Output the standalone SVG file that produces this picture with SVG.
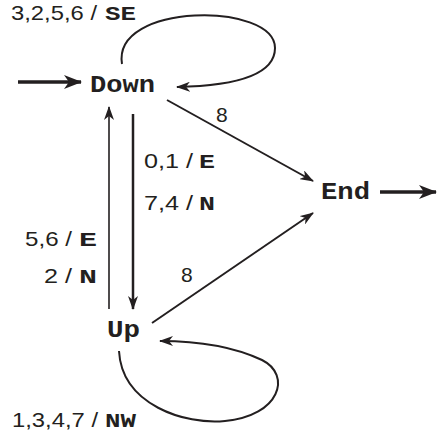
<svg xmlns="http://www.w3.org/2000/svg" width="437" height="441" viewBox="0 0 437 441">
<defs>
<style>
.edge{fill:none;stroke:#231f20;stroke-width:2}
.thick{fill:none;stroke:#231f20;stroke-width:3.5}
.node{font-family:"Liberation Mono",monospace;font-weight:bold;font-size:24px;fill:#231f20}
.lab{font-family:"Liberation Sans",Arial,sans-serif;font-size:21px;fill:#231f20}
.labm{font-family:"Liberation Mono",monospace;font-weight:bold;font-size:21px;fill:#231f20}
</style>
<marker id="ah" viewBox="0 0 14 10" refX="13" refY="5" markerWidth="14" markerHeight="10" markerUnits="userSpaceOnUse" orient="auto">
<path d="M0,0 L14,5 L0,10 L4,5 z" fill="#231f20"/>
</marker>
<marker id="ahb" viewBox="0 0 18 14" refX="17" refY="7" markerWidth="18" markerHeight="14" markerUnits="userSpaceOnUse" orient="auto">
<path d="M0,0 L18,7 L0,14 L5,7 z" fill="#231f20"/>
</marker>
</defs>
<g id="connectors">
<path class="thick" d="M18,82 L81,82" marker-end="url(#ahb)"/>
<path class="thick" d="M380,192 L436,192" marker-end="url(#ahb)"/>
<path class="edge" d="M122,64 C112,2 275,2 275,48 C275,78 225,86 177,87" marker-end="url(#ah)"/>
<path class="edge" d="M167,100 L313,181" marker-end="url(#ah)"/>
<path class="edge" d="M152,323 L313,213" marker-end="url(#ah)"/>
<path class="edge" style="stroke-width:2.5" d="M133,114 L133,309" marker-end="url(#ah)"/>
<path class="edge" style="stroke-width:1.6" d="M109,309 L109,107" marker-end="url(#ah)"/>
<path class="edge" d="M119,351 C122,405 185,425 225,421 C280,416 292,375 262,360 C230,345 190,341 160,341" marker-end="url(#ah)"/>
</g>
<g id="Down"><text class="node" x="90" y="92" textLength="65" lengthAdjust="spacingAndGlyphs">Down</text></g>
<g id="End"><text class="node" x="321" y="199" textLength="49" lengthAdjust="spacingAndGlyphs">End</text></g>
<g id="Up"><text class="node" x="107" y="337" textLength="33" lengthAdjust="spacingAndGlyphs">Up</text></g>
<g id="labels">
<text class="lab" x="11" y="20" textLength="86" lengthAdjust="spacingAndGlyphs">3,2,5,6 /</text>
<text class="labm" x="105" y="20" textLength="31" lengthAdjust="spacingAndGlyphs">SE</text>
<text class="lab" x="216" y="122">8</text>
<text class="lab" x="144" y="168" textLength="49" lengthAdjust="spacingAndGlyphs">0,1 /</text>
<text class="labm" x="199" y="168" textLength="16" lengthAdjust="spacingAndGlyphs">E</text>
<text class="lab" x="144" y="210" textLength="49" lengthAdjust="spacingAndGlyphs">7,4 /</text>
<text class="labm" x="199" y="210" textLength="16" lengthAdjust="spacingAndGlyphs">N</text>
<text class="lab" x="25" y="246" textLength="47" lengthAdjust="spacingAndGlyphs">5,6 /</text>
<text class="labm" x="79" y="246" textLength="18" lengthAdjust="spacingAndGlyphs">E</text>
<text class="lab" x="44" y="283" textLength="28" lengthAdjust="spacingAndGlyphs">2 /</text>
<text class="labm" x="79" y="283" textLength="18" lengthAdjust="spacingAndGlyphs">N</text>
<text class="lab" x="181" y="282">8</text>
<text class="lab" x="12" y="427" textLength="86" lengthAdjust="spacingAndGlyphs">1,3,4,7 /</text>
<text class="labm" x="105" y="427" textLength="31" lengthAdjust="spacingAndGlyphs">NW</text>
</g>
</svg>
